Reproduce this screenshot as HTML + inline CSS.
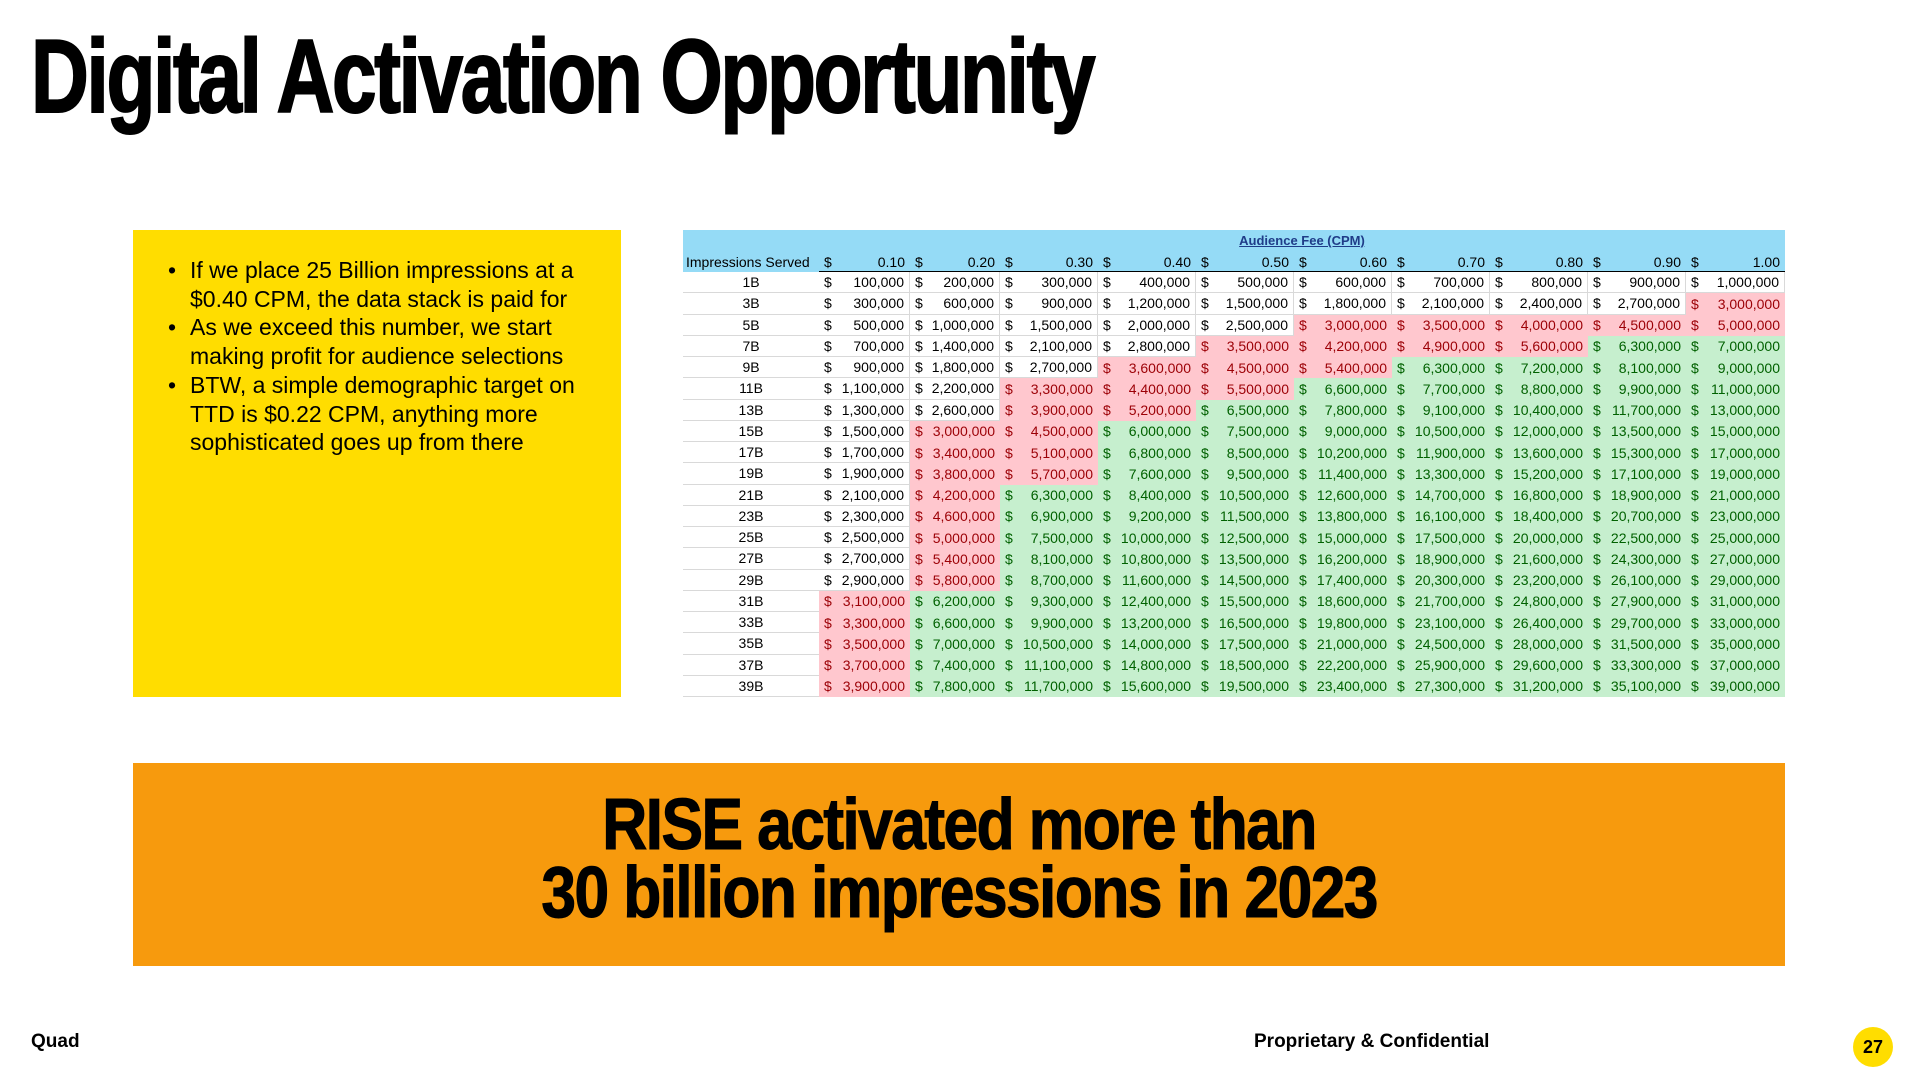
<!DOCTYPE html>
<html><head><meta charset="utf-8">
<style>
*{margin:0;padding:0;box-sizing:border-box}
body{width:1920px;height:1080px;background:#fff;position:relative;overflow:hidden;font-family:"Liberation Sans",sans-serif;color:#000}
.title{position:absolute;left:31px;top:22px;font-family:"Liberation Sans",sans-serif;font-weight:bold;font-size:104px;line-height:110px;letter-spacing:-3px;transform-origin:0 0;transform:scaleX(0.77);white-space:nowrap;-webkit-text-stroke:2px #000}
.ybox{position:absolute;left:133px;top:230px;width:488px;height:467px;background:#FFDD00}
.ybox ul{list-style:none;position:absolute;left:35px;top:26px}
.ybox li{position:relative;padding-left:22px;font-size:23px;line-height:28.7px;white-space:nowrap}
.ybox li:before{content:"•";position:absolute;left:0;top:0}
#tbl{position:absolute;left:683px;top:230px;width:1102px;height:467px}
.obox{position:absolute;left:133px;top:763px;width:1652px;height:203px;background:#F79A0D;text-align:center}
.obox div{font-family:"Liberation Sans",sans-serif;font-weight:bold;font-size:72px;line-height:68px;letter-spacing:-2px;position:absolute;left:0;width:100%;transform:scaleX(0.87);-webkit-text-stroke:1px #000}
.foot{position:absolute;font-family:"Liberation Sans",sans-serif;font-weight:bold;font-size:19px}
.pg{position:absolute;left:1853px;top:1027px;width:40px;height:40px;border-radius:50%;background:#FFDD00;font-weight:bold;font-size:18px;text-align:center;line-height:40px}
.cell{position:absolute;font-size:14px;display:flex;justify-content:space-between;align-items:center;padding:0 5px;white-space:nowrap}
</style></head><body>
<div class="title">Digital Activation Opportunity</div>
<div class="ybox"><ul>
<li>If we place 25 Billion impressions at a<br>$0.40 CPM, the data stack is paid for</li>
<li>As we exceed this number, we start<br>making profit for audience selections</li>
<li>BTW, a simple demographic target on<br>TTD is $0.22 CPM, anything more<br>sophisticated goes up from there</li>
</ul></div>
<div id="tbl"></div>
<div class="obox">
<div style="top:28px">RISE activated more than</div>
<div style="top:96px">30 billion impressions in 2023</div>
</div>
<div class="foot" style="left:31px;top:1031px">Quad</div>
<div class="foot" style="left:1254px;top:1031px">Proprietary &amp; Confidential</div>
<div class="pg">27</div>
<script>
const impressions=[1,3,5,7,9,11,13,15,17,19,21,23,25,27,29,31,33,35,37,39];
const cpm=[0.10,0.20,0.30,0.40,0.50,0.60,0.70,0.80,0.90,1.00];
const redThreshold=3000000;
const greenThreshold=6000000;
const tbl=document.getElementById('tbl');
const colX=[0,136,227,317,415,513,611,709,807,905,1003,1102];
const headH=21,rowH=21.25,dataTop=42;
function mk(x,y,w,h,bg){const d=document.createElement('div');d.className='cell';d.style.left=x+'px';d.style.top=y+'px';d.style.width=w+'px';d.style.height=h+'px';if(bg)d.style.background=bg;tbl.appendChild(d);return d;}
const hb=mk(0,0,1102,42,'#95DBF6');


const t=mk(colX[1],0,colX[11]-colX[1],headH,null);
t.style.justifyContent='center';t.style.fontWeight='bold';t.style.color='#1F3C88';t.style.textDecoration='underline';t.style.fontSize='13px';
t.textContent='Audience Fee (CPM)';


const ih=mk(0,headH,136,headH,null);ih.textContent='Impressions Served';ih.style.padding='0 3px';


cpm.forEach((c,i)=>{const h=mk(colX[i+1],headH,colX[i+2]-colX[i+1],headH,null);
h.innerHTML='<span>$</span><span>'+c.toFixed(2)+'</span>';

});
const line=mk(colX[1],41,colX[11]-colX[1],2,'#000');line.style.padding='0';


function fmt(v){return v.toLocaleString('en-US');}
impressions.forEach((imp,r)=>{
 const y=dataTop+r*rowH;
 const l=mk(0,y,136,rowH,'#fff');l.style.justifyContent='center';l.textContent=imp+'B';l.style.borderBottom='1px solid #D9D9D9';
 
 
 cpm.forEach((c,i)=>{
  const v=Math.round(imp*c*1000000);
  let bg='#fff',col='#000';
  if(v>=greenThreshold){bg='#C6EFCE';col='#006100';}else if(v>=redThreshold){bg='#FFC7CE';col='#9C0006';}
  const d=mk(colX[i+1],y,colX[i+2]-colX[i+1],rowH,bg);
  d.style.color=col;
  if(bg==='#fff'){d.style.borderRight='1px solid #D9D9D9';d.style.borderBottom='1px solid #D9D9D9';}
  d.innerHTML='<span>$</span><span>'+fmt(v)+'</span>';
  
  
 });
});
</script>
</body></html>
